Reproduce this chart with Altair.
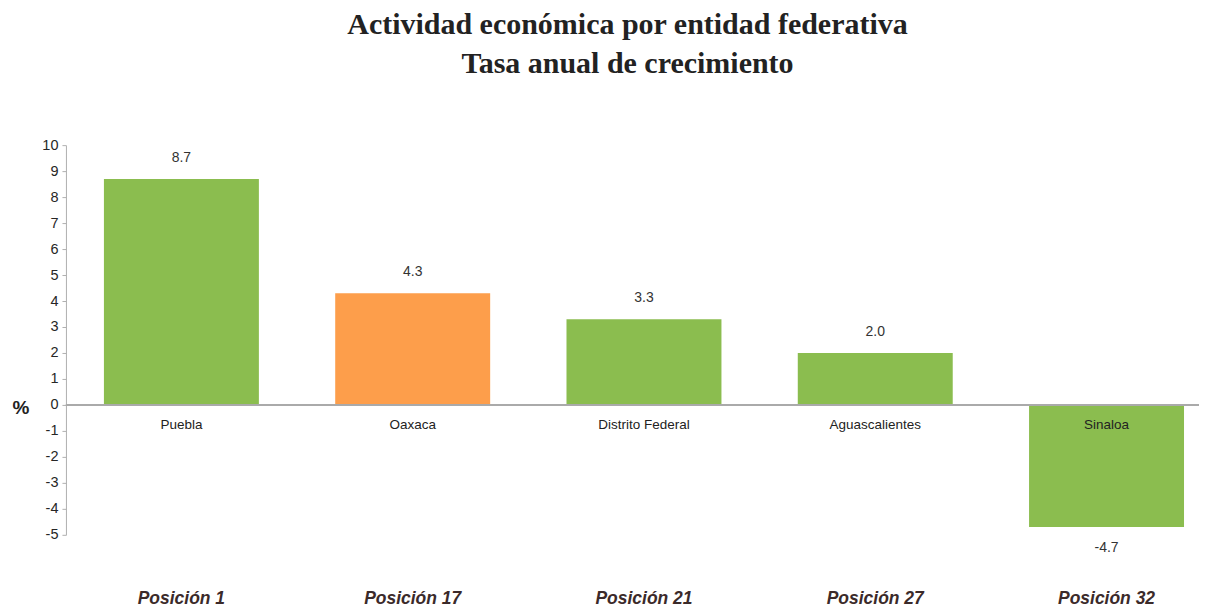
import altair as alt
import pandas as pd

entidades = ["Puebla", "Oaxaca", "Distrito Federal", "Aguascalientes", "Sinaloa"]
tasas = [8.7, 4.3, 3.3, 2.0, -4.7]
posiciones = ["Posición 1", "Posición 17", "Posición 21", "Posición 27", "Posición 32"]
destacada = "Oaxaca"
y_ticks = list(range(-5, 11))

df = pd.DataFrame({"entidad": entidades, "valor": tasas, "posicion": posiciones})

label_map = "{" + ",".join(f"'{e}':'{p}'" for e, p in zip(entidades, posiciones)) + "}"

GREEN = "#8bbd4f"
ORANGE = "#fd9e4b"

x_enc = alt.X(
    "entidad:N",
    sort=entidades,
    scale=alt.Scale(paddingInner=0.33, paddingOuter=0.1145, align=0.717),
    axis=alt.Axis(
        orient="bottom",
        title=None,
        domain=False,
        ticks=False,
        labelAngle=0,
        labelExpr=f"{label_map}[datum.value]",
        labelFont="Liberation Sans",
        labelFontSize=17.5,
        labelFontWeight="bold",
        labelFontStyle="italic",
        labelColor="#3b2a2a",
        labelPadding=55,
    ),
)

y_scale = alt.Scale(domain=[-5, 10], nice=False, zero=False)

bars = alt.Chart(df).mark_bar().encode(
    x=x_enc,
    y=alt.Y(
        "valor:Q",
        scale=y_scale,
        axis=alt.Axis(
            values=y_ticks,
            tickCount=len(y_ticks),
            grid=False,
            labelOverlap=False,
            labelExpr="'' + datum.value",
            title="%",
            titleAngle=0,
            titleAlign="left",
            titleBaseline="middle",
            titleX=-54,
            titleY=263,
            titleFont="Liberation Sans",
            titleFontSize=19,
            titleFontWeight="bold",
            titleColor="#222222",
            labelFont="Liberation Sans",
            labelFontSize=14.5,
            labelColor="#262626",
            labelPadding=4,
            domainColor="#b0b0b0",
            tickColor="#b0b0b0",
            tickSize=4,
        ),
    ),
    color=alt.condition(alt.datum.entidad == destacada, alt.value(ORANGE), alt.value(GREEN)),
)

zero = alt.Chart(df).mark_rule(color="#aaaaaa", strokeWidth=1.5).encode(y=alt.datum(0))

text_style = dict(font="Liberation Sans", fontSize=14, color="#333333")
lbl = "replace(format(datum.valor, '.1f'), '\u2212', '-')"

val_pos = alt.Chart(df).transform_filter("datum.valor >= 0").transform_calculate(lbl=lbl).mark_text(dy=-21, **text_style).encode(
    x=alt.X("entidad:N", sort=entidades),
    y=alt.Y("valor:Q"),
    text="lbl:N",
)
val_neg = alt.Chart(df).transform_filter("datum.valor < 0").transform_calculate(lbl=lbl).mark_text(dy=21, **text_style).encode(
    x=alt.X("entidad:N", sort=entidades),
    y=alt.Y("valor:Q"),
    text="lbl:N",
)
names = alt.Chart(df).mark_text(dy=20, font="Liberation Sans", fontSize=13.5, color="#222222").encode(
    x=alt.X("entidad:N", sort=entidades),
    y=alt.datum(0),
    text="entidad:N",
)

chart = (
    alt.layer(bars, zero, val_pos, val_neg, names)
    .properties(
        width=1134,
        height=390,
        autosize=alt.AutoSizeParams(type="none"),
        padding={"left": 58, "top": 137, "right": 5, "bottom": 80},
        title=alt.TitleParams(
            text=["Actividad económica por entidad federativa", "Tasa anual de crecimiento"],
            font="Liberation Serif",
            fontSize=30,
            fontWeight="bold",
            color="#222222",
            anchor="middle",
            lineHeight=39,
            offset=58,
            dx=-5,
        ),
    )
    .configure_view(stroke=None)
    .configure_axisY(labelOverlap=False)
)

chart.save("out.html", embed_options={"renderer": "svg", "actions": False})
